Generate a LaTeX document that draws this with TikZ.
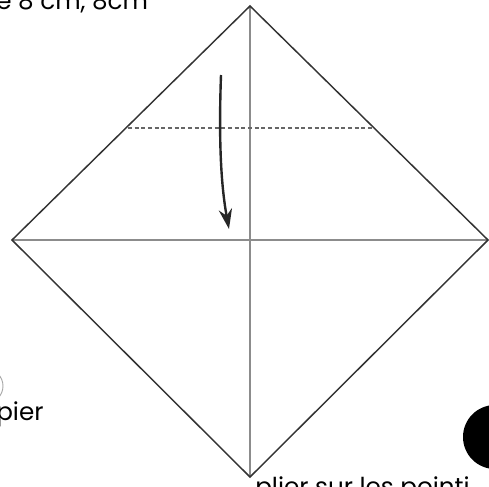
\documentclass[tikz,border=0pt]{standalone}
\usepackage{fontspec}
\setmainfont{Poppins}
\usetikzlibrary{arrows.meta}
\begin{document}
\begin{tikzpicture}[x=0.75pt,y=-0.75pt,
  crease/.style={draw=black!45,line width=1.1pt},
  edge/.style={draw=black!80,line width=1.1pt},
  valley/.style={draw=black!60,line width=0.9pt,dash pattern=on 3pt off 2pt},
  foldarrow/.style={draw=black!85,line width=1.8pt,-{Stealth[length=15pt,width=10pt]}},
  lbl/.style={font=\fontsize{18.5}{19}\selectfont,inner sep=0pt,anchor=base west}]
\useasboundingbox (0,0) rectangle (489,486);
\clip (0,0) rectangle (489,486);
\coordinate (T) at (250,6);
\coordinate (L) at (12,240);
\coordinate (R) at (488,240);
\coordinate (B) at (250,477);
\coordinate (DL) at (128,128);
\coordinate (DR) at (374,128);
\coordinate (A1) at (221,75);
\coordinate (A2) at (229,229);
\draw[crease] (T) -- (B);
\draw[crease] (L) -- (R);
\draw[edge,line join=miter] (T) -- (R) -- (B) -- (L) -- cycle;
\draw[valley] (DL) -- (DR);
\draw[foldarrow] (A1) .. controls (219,130) and (220,180) .. (A2);
\node[lbl] (t1) at (-4,9) {e 8 cm, 8cm};
\node[lbl] (t2) at (-4,420) {pier};
\draw[draw=black!35,line width=0.7pt] (-14,386) circle (17);
\node[circle,fill=black,minimum size=48pt,inner sep=0pt] (c2) at (495,437) {};
\node[lbl] (t3) at (255,495) {plier sur les pointi};
\end{tikzpicture}
\end{document}
